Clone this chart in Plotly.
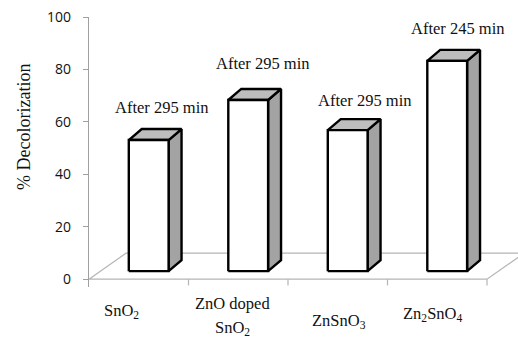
import plotly.graph_objects as go

categories = ["SnO<sub>2</sub>", "ZnO doped<br>SnO<sub>2</sub>", "ZnSnO<sub>3</sub>", "Zn<sub>2</sub>SnO<sub>4</sub>"]
values = [50, 65.3, 53.8, 80.2]
bar_labels = ["After 295 min", "After 295 min", "After 295 min", "After 245 min"]
y_ticks = [0, 20, 40, 60, 80, 100]

SERIF = "Liberation Serif, Times New Roman, serif"
SANS = "Open Sans, Liberation Sans, sans-serif"

W, H = 518, 339
LEFT_PX, TOP_PX = 89, 17
YMIN = -3.0
PX_PER_UNIT = 2.62
BOTTOM_PX = 279 + (-YMIN) * PX_PER_UNIT


def px_to_paper(px, py):
    return ((px - LEFT_PX) / (W - LEFT_PX),
            1 - (py - TOP_PX) / (BOTTOM_PX - TOP_PX))


n = len(categories)
FLOOR_DX, FLOOR_DY = 0.372, 9.9
BAR_OFF_X, BAR_BASE = 0.10, 3.05
BAR_W = 0.40
BAR_DX, BAR_DY = 0.13, 4.2

fig = go.Figure()

left, right = -0.5, n - 0.5
fig.add_trace(go.Scatter(
    x=[left, right, right + FLOOR_DX, left + FLOOR_DX, left],
    y=[0, 0, FLOOR_DY, FLOOR_DY, 0],
    mode="lines", line=dict(color="#b5b5b5", width=1.2),
    hoverinfo="skip", showlegend=False))

tx, ty = [], []
for b in range(1, n + 1):
    xb = b - 0.5
    tx += [xb, xb, None]
    ty += [0, -2.4, None]
fig.add_trace(go.Scatter(x=tx, y=ty, mode="lines",
                         line=dict(color="#b5b5b5", width=1.2),
                         hoverinfo="skip", showlegend=False))

for i, v in enumerate(values):
    x0 = i + BAR_OFF_X - BAR_W / 2
    x1 = i + BAR_OFF_X + BAR_W / 2
    y0 = BAR_BASE
    y1 = BAR_BASE + v
    faces = [
        ([x1, x1 + BAR_DX, x1 + BAR_DX, x1, x1],
         [y0, y0 + BAR_DY, y1 + BAR_DY, y1, y0], "#a3a3a3"),
        ([x0, x1, x1 + BAR_DX, x0 + BAR_DX, x0],
         [y1, y1, y1 + BAR_DY, y1 + BAR_DY, y1], "#bdbdbd"),
        ([x0, x1, x1, x0, x0],
         [y0, y0, y1, y1, y0], "#ffffff"),
    ]
    for fx, fy, col in faces:
        fig.add_trace(go.Scatter(x=fx, y=fy, mode="lines", fill="toself",
                                 fillcolor=col,
                                 line=dict(color="#000000", width=2.4),
                                 hoverinfo="skip", showlegend=False))

label_dy = [15.6, 17.1, 14.5, 15.6]
label_dx = [0.23, 0.24, 0.27, 0.20]
for i, (v, t) in enumerate(zip(values, bar_labels)):
    fig.add_annotation(x=i + label_dx[i], y=v + label_dy[i], text=t,
                       showarrow=False, xref="x", yref="y",
                       xanchor="center", yanchor="middle",
                       font=dict(family=SERIF, size=16.5, color="#111111"))

# category labels: (centre x px, first-line y px)
cat_px = [(121, 311), (232, 303), (339, 321), (432, 314)]
LINE_GAP = 25
for (cx, cy), c in zip(cat_px, categories):
    for k, line in enumerate(c.split("<br>")):
        ax, ay = px_to_paper(cx, cy + k * LINE_GAP)
        fig.add_annotation(x=ax, y=ay, text=line, showarrow=False,
                           xref="paper", yref="paper",
                           xanchor="center", yanchor="middle",
                           font=dict(family=SERIF, size=16.5, color="#111111"))

tx_, ty_ = px_to_paper(24, 127)
fig.add_annotation(x=tx_, y=ty_, xref="paper", yref="paper", text="% Decolorization",
                   textangle=-90, showarrow=False,
                   xanchor="center", yanchor="middle",
                   font=dict(family=SERIF, size=18, color="#111111"))

fig.update_layout(
    width=W, height=H,
    margin=dict(l=LEFT_PX, r=0, t=TOP_PX, b=H - BOTTOM_PX, pad=0),
    paper_bgcolor="white", plot_bgcolor="white",
    xaxis=dict(range=[-0.5, -0.5 + (W - LEFT_PX) / 99.5], visible=False,
               fixedrange=True),
    yaxis=dict(range=[YMIN, 100], tickvals=y_ticks, showgrid=False,
               zeroline=False, showline=True, linecolor="#a0a0a0", linewidth=1.2,
               ticks="outside", ticklen=5, tickcolor="#a0a0a0", tickwidth=1.2,
               ticklabelstandoff=9,
               tickfont=dict(family=SANS, size=14, color="#111111")),
    showlegend=False,
)

fig.write_html("out.html")
